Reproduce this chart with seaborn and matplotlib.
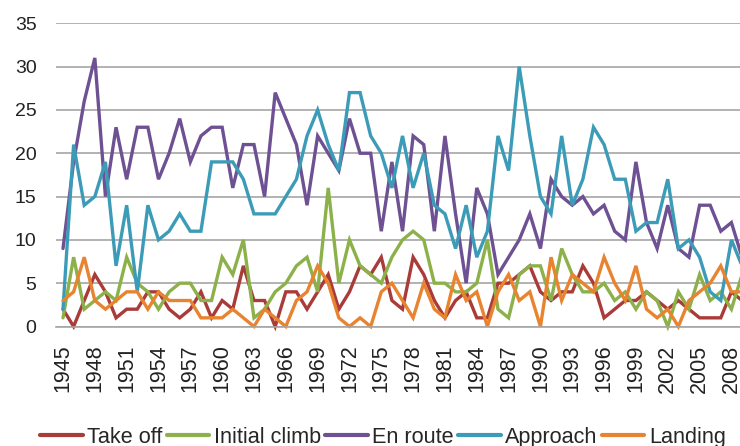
import numpy as np
import pandas as pd
import matplotlib
matplotlib.use("Agg")
import matplotlib.pyplot as plt
import seaborn as sns

years = list(range(1945, 2010))

take_off = [2, 0, 3, 6, 4, 1, 2, 2, 4, 4, 2, 1, 2, 4, 1, 3, 2, 7, 3, 3,
            0, 4, 4, 2, 4, 6, 2, 4, 7, 6, 8, 3, 2, 8, 6, 3, 1, 3, 4, 1,
            1, 5, 5, 6, 7, 4, 3, 4, 4, 7, 5, 1, 2, 3, 3, 4, 3, 2, 3, 2,
            1, 1, 1, 4, 3]
initial_climb = [1, 8, 2, 3, 4, 3, 8, 5, 4, 2, 4, 5, 5, 3, 3, 8, 6, 10, 1, 2,
                 4, 5, 7, 8, 4, 16, 5, 10, 7, 6, 5, 8, 10, 11, 10, 5, 5, 4, 4, 5,
                 10, 2, 1, 6, 7, 7, 3, 9, 6, 4, 4, 5, 3, 4, 2, 4, 3, 0, 4, 2,
                 6, 3, 4, 2, 6]
en_route = [9, 19, 26, 31, 15, 23, 17, 23, 23, 17, 20, 24, 19, 22, 23, 23, 16, 21, 21, 15,
            27, 24, 21, 14, 22, 20, 18, 24, 20, 20, 11, 19, 11, 22, 21, 11, 22, 13, 5, 16,
            13, 6, 8, 10, 13, 9, 17, 15, 14, 15, 13, 14, 11, 10, 19, 12, 9, 14, 9, 8,
            14, 14, 11, 12, 8]
approach = [2, 21, 14, 15, 19, 7, 14, 4, 14, 10, 11, 13, 11, 11, 19, 19, 19, 17, 13, 13,
            13, 15, 17, 22, 25, 21, 18, 27, 27, 22, 20, 16, 22, 16, 20, 14, 13, 9, 14, 8,
            11, 22, 18, 30, 22, 15, 13, 22, 14, 17, 23, 21, 17, 17, 11, 12, 12, 17, 9, 10,
            8, 4, 3, 10, 7]
landing = [3, 4, 8, 3, 2, 3, 4, 4, 2, 4, 3, 3, 3, 1, 1, 1, 2, 1, 0, 2,
           1, 0, 3, 4, 7, 5, 1, 0, 1, 0, 4, 5, 3, 1, 5, 2, 1, 6, 3, 4,
           0, 4, 6, 3, 4, 0, 8, 3, 6, 5, 4, 8, 5, 3, 7, 2, 1, 2, 0, 3,
           4, 5, 7, 4, 4]

series_names = ["Take off", "Initial climb", "En route", "Approach", "Landing"]
series_values = [take_off, initial_climb, en_route, approach, landing]
colors = ["#A93B38", "#8CB14A", "#6E5192", "#3C9CB8", "#E8832F"]

xtick_years = list(range(1945, 2009, 3))
ytick_values = list(range(0, 36, 5))

rows = []
for name, vals in zip(series_names, series_values):
    for y, v in zip(years, vals):
        rows.append({"Year": y, "Count": v, "Phase": name})
df = pd.DataFrame(rows)

sns.set_theme(style="white")
plt.rcParams["font.family"] = ["Liberation Sans", "DejaVu Sans"]

fig = plt.figure(figsize=(7.40, 4.46), dpi=100)
ax = fig.add_axes([56 / 740, (446 - 326.5) / 446, 684 / 740, (326.5 - 23.3) / 446])

sns.lineplot(data=df, x="Year", y="Count", hue="Phase", hue_order=series_names,
             palette=colors, linewidth=2.4, ax=ax, clip_on=False)

for ln in ax.lines:
    ln.set_solid_joinstyle("miter")

ax.set_xlim(1944.34, 2008.81)
ax.set_ylim(0, 35)
ax.set_yticks(ytick_values)
ax.set_xticks(xtick_years)
ax.set_xticklabels([str(y) for y in xtick_years], rotation=90)
ax.set_xlabel("")
ax.set_ylabel("")

ax.yaxis.grid(True, color="#A6A6A6", linewidth=1.2)
ax.xaxis.grid(False)
ax.set_axisbelow(True)
for s in ["top", "right", "left"]:
    ax.spines[s].set_visible(False)
ax.spines["bottom"].set_color("#A6A6A6")
ax.spines["bottom"].set_linewidth(1.2)
ax.tick_params(axis="y", length=0, pad=14, labelsize=14, labelcolor="#222222")
ax.tick_params(axis="x", length=0, pad=13, labelsize=15.5, labelcolor="#222222")

sns.move_legend(ax, "center", bbox_to_anchor=(0.478, -0.366), ncol=5, title=None,
                frameon=False, fontsize=15.6, handlelength=1.95, handletextpad=0.2,
                columnspacing=0.22)
for lh in ax.get_legend().get_lines():
    lh.set_linewidth(3)

fig.savefig("out.png", dpi=100)
